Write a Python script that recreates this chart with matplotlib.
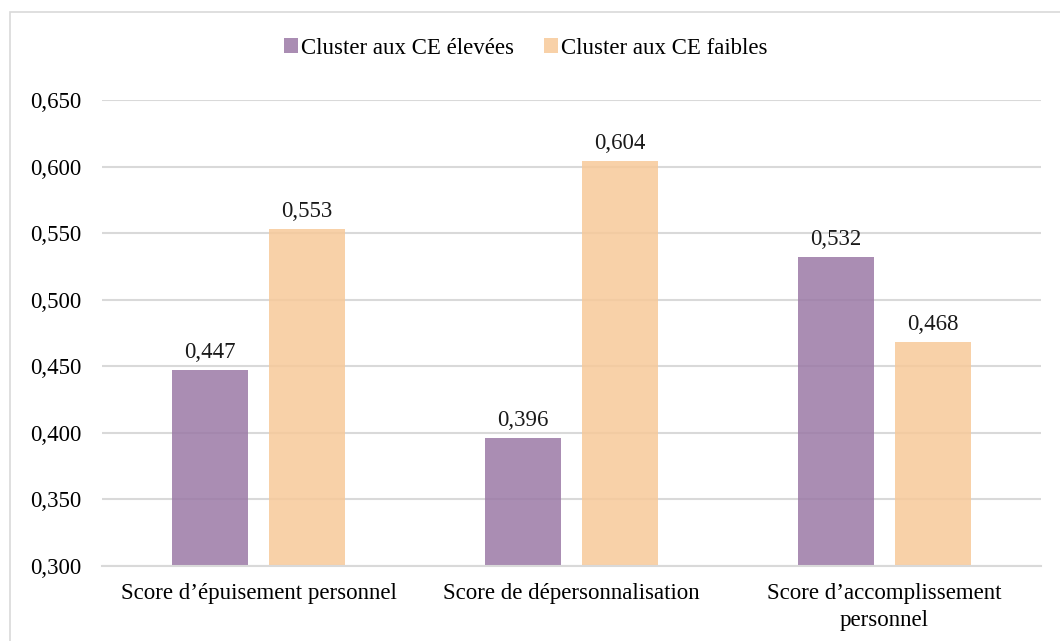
import matplotlib
matplotlib.use("Agg")
import matplotlib.pyplot as plt
import numpy as np
from matplotlib.patches import Rectangle

categories = ["Score d\u2019épuisement personnel", "Score de dépersonnalisation", "Score d\u2019accomplissement\npersonnel"]
series_names = ["Cluster aux CE élevées", "Cluster aux CE faibles"]
high_ce = [0.447, 0.396, 0.532]
low_ce = [0.553, 0.604, 0.468]
yticks = [0.300, 0.350, 0.400, 0.450, 0.500, 0.550, 0.600, 0.650]

plt.rcParams['font.family'] = ['Liberation Serif', 'DejaVu Serif']
FS = 16.5

W, H = 1060, 641
fig = plt.figure(figsize=(W/100, H/100), dpi=100)
# outer chart border (cropped at right/bottom)
fig.add_artist(Rectangle((10/W, -0.05), 1.1, (H-12)/H + 0.05, transform=fig.transFigure,
                         fill=False, edgecolor='#D9D9D9', linewidth=1.2))

ax = fig.add_axes([102/W, 1 - 566/H, (1041-102)/W, (566-100)/H])

x = np.arange(len(categories))
bw = 0.243
off = 0.155
colors = ['#9B79A6', '#F7C999']
b1 = ax.bar(x - off, high_ce, bw, color=colors[0], alpha=0.85, zorder=1, label=series_names[0])
b2 = ax.bar(x + off, low_ce, bw, color=colors[1], alpha=0.85, zorder=1, label=series_names[1])

ax.set_ylim(0.300, 0.650)
ax.set_xlim(-0.5, 2.5)
ax.set_yticks(yticks)
ax.set_yticklabels([f"{v:.3f}".replace('.', ',') for v in yticks], fontsize=FS)
ax.yaxis.grid(True, color='#D9D9D9', linewidth=1.5, zorder=0)
ax.set_axisbelow(True)
ax.tick_params(axis='y', length=0, pad=15)
ax.tick_params(axis='x', length=0, pad=12)
ax.set_xticks(x)
ax.set_xticklabels(categories, fontsize=FS, linespacing=1.4)
for s in ['top', 'right', 'left']:
    ax.spines[s].set_visible(False)
ax.spines['bottom'].set_color('#D9D9D9')
ax.spines['bottom'].set_linewidth(1.5)

for bars, vals in ((b1, high_ce), (b2, low_ce)):
    for r, v in zip(bars, vals):
        ax.annotate(f"{v:.3f}".replace('.', ','), (r.get_x() + r.get_width()/2, v),
                    xytext=(0, 5), textcoords='offset points', ha='center', va='bottom',
                    fontsize=FS, color='#1a1a1a')

leg = fig.legend(handles=[b1, b2], labels=series_names, loc='center', bbox_to_anchor=(526/W, 1 - 48/H),
                 ncol=2, frameon=False, fontsize=FS, handlelength=0.6, handleheight=0.6,
                 handletextpad=0.15, columnspacing=1.3)

fig.savefig("out.png", dpi=100)
